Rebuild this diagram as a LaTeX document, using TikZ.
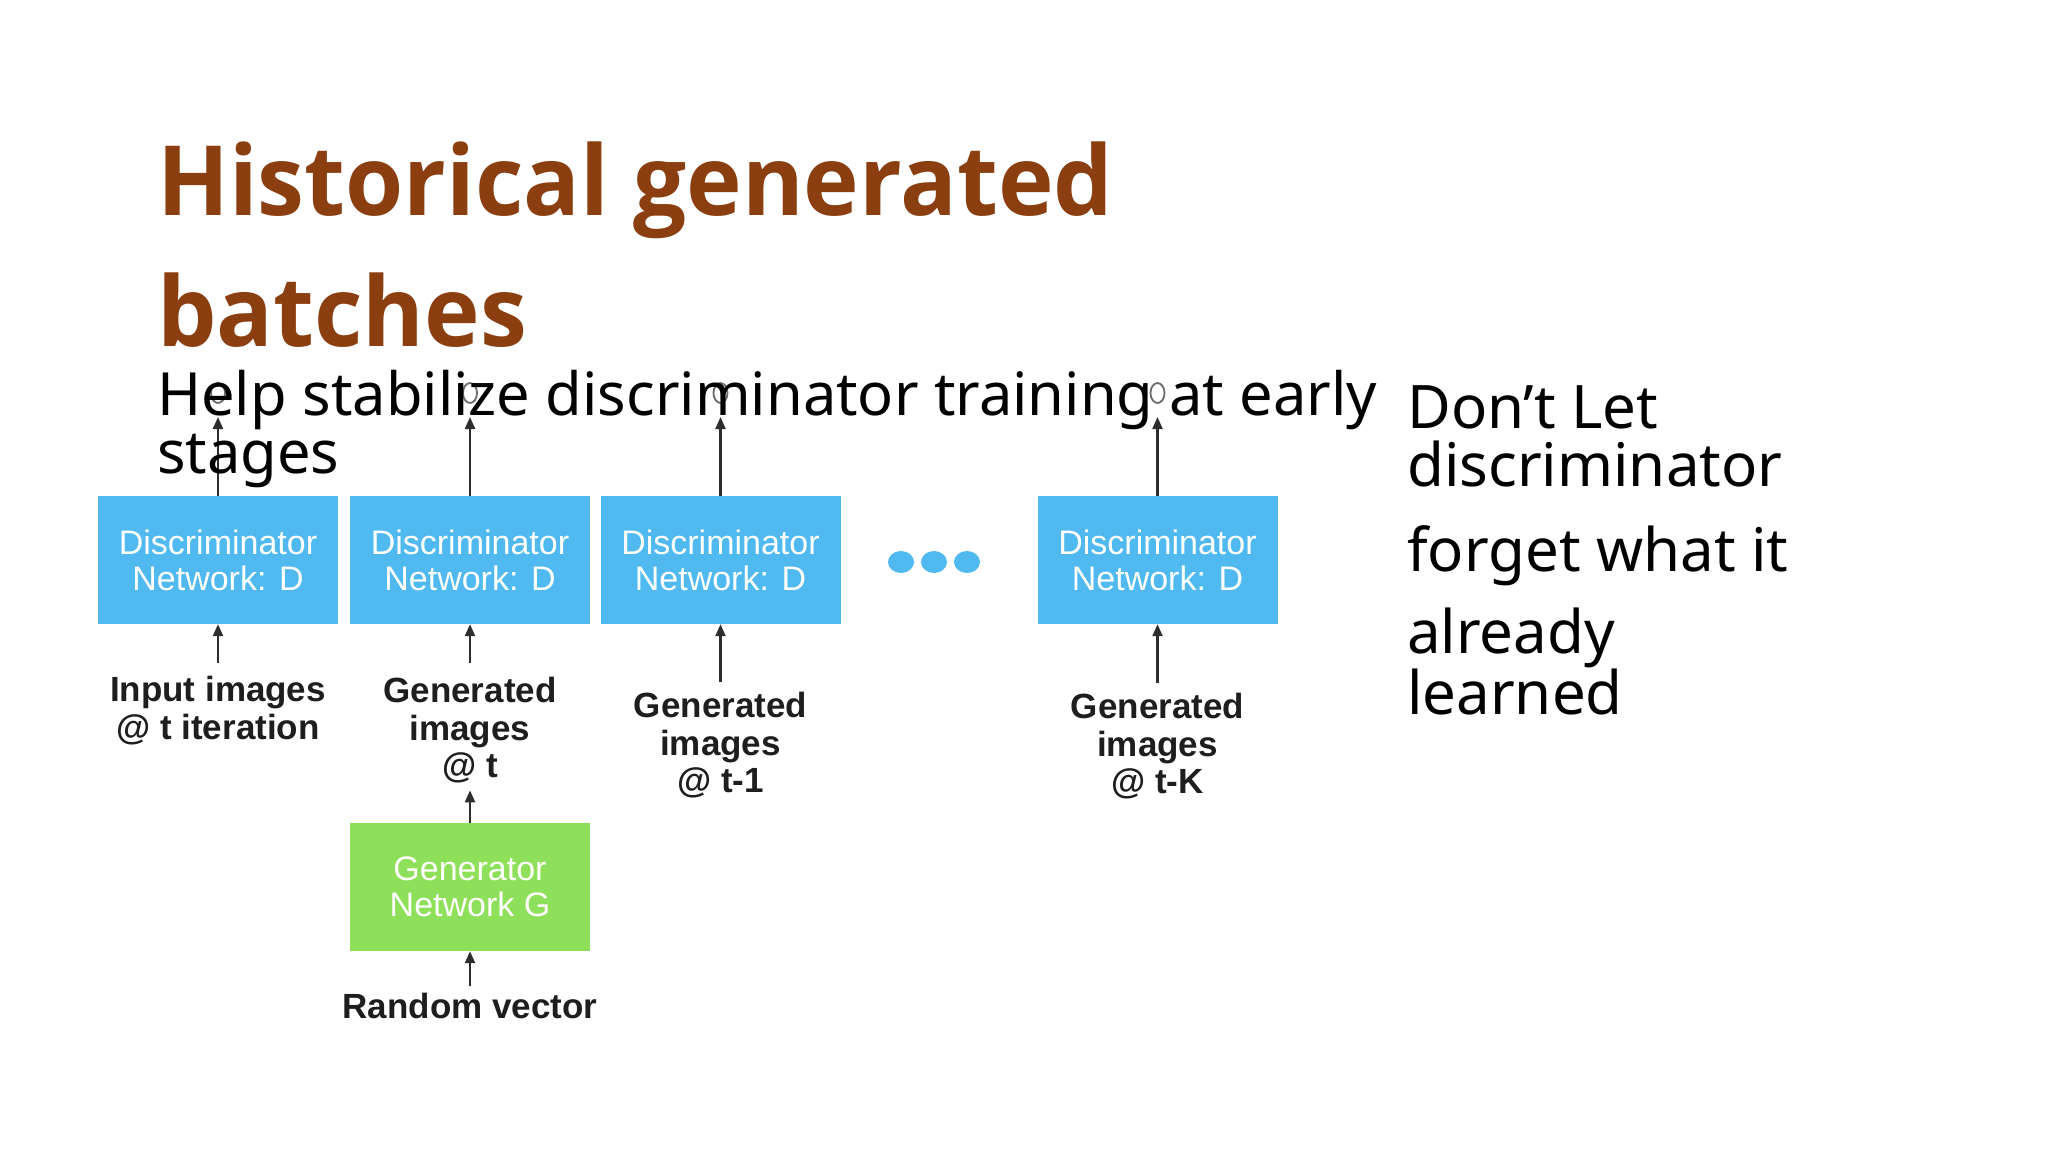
\documentclass[tikz,border=0pt]{standalone}
\usepackage{fontspec}
\setmainfont{Noto Sans}
\newfontfamily\titlefont{Open Sans}[FakeStretch=0.97]
\newfontfamily\diagfont{Liberation Sans}
\usetikzlibrary{arrows.meta}
\definecolor{titlebrown}{RGB}{139,62,15}
\definecolor{dblue}{RGB}{79,185,240}
\definecolor{ggreen}{RGB}{142,224,90}
\definecolor{arrcol}{RGB}{45,45,45}
\definecolor{lblcol}{RGB}{30,30,30}
\tikzset{
  dbox/.style={fill=dblue, draw=none, minimum width=240pt, minimum height=128pt, inner sep=0pt,
    text=white, align=center, font=\diagfont\fontsize{34}{36}\selectfont},
  gbox/.style={dbox, fill=ggreen},
  lbl/.style={anchor=north, inner sep=0pt, align=center, text=lblcol,
    font=\diagfont\bfseries\fontsize{35}{37.5}\selectfont},
  conn/.style={draw=arrcol, line width=2.2pt, -{Triangle[length=12pt,width=10pt]}},
  ghost/.style={draw=gray!85!black, line width=1.8pt},
  titletext/.style={anchor=base west, inner sep=0pt, text=titlebrown,
    font=\titlefont\bfseries\fontsize{97}{110}\selectfont},
  bodytext/.style={anchor=base west, inner sep=0pt, text=black,
    font=\fontsize{59.6}{66}\selectfont},
  sidetext/.style={anchor=base west, inner sep=0pt, text=black,
    font=\fontsize{60}{68}\selectfont},
  dot/.style={fill=dblue, draw=none}
}
\begin{document}
\begin{tikzpicture}[x=1pt,y=-1pt]
\useasboundingbox[fill=white] (0,0) rectangle (2048,1152);

% discriminator boxes
\node[dbox] (d1) at (218,560) {Discriminator\\Network: D};
\node[dbox] (d2) at (470,560) {Discriminator\\Network: D};
\node[dbox] (d3) at (720.5,560) {Discriminator\\Network: D};
\node[dbox] (d4) at (1157.5,560) {Discriminator\\Network: D};
\node[gbox] (g) at (470,887) {Generator\\Network G};

% ellipsis dots
\fill[dot] (901,562) ellipse [x radius=13, y radius=11];
\fill[dot] (934,562) ellipse [x radius=13, y radius=11];
\fill[dot] (967,562) ellipse [x radius=13, y radius=11];

% outputs
\coordinate (o1) at (218,417);
\coordinate (o2) at (470,417);
\coordinate (o3) at (720.5,417);
\coordinate (o4) at (1157.5,417);
\foreach \x in {218,470,720.5,1157.5}{
  \draw[ghost] (\x,393) ellipse [x radius=7, y radius=10];
}
\draw[conn] (d1.north) -- (o1);
\draw[conn] (d2.north) -- (o2);
\draw[conn] (d3.north) -- (o3);
\draw[conn] (d4.north) -- (o4);

% input labels
\node[lbl] (l1) at (218,676) {Input images\\@ t iteration};
\node[lbl] (l2) at (470,677) {Generated\\images\\@ t};
\node[lbl] (l3) at (720.5,692) {Generated\\images\\@ t-1};
\node[lbl] (l4) at (1157.5,693) {Generated\\images\\@ t-K};
\node[lbl] (rv) at (470,993) {Random vector};

\draw[conn] ([yshift=13pt]l1.north) -- (d1.south);
\draw[conn] ([yshift=14pt]l2.north) -- (d2.south);
\draw[conn] ([yshift=10pt]l3.north) -- (d3.south);
\draw[conn] ([yshift=10pt]l4.north) -- (d4.south);
\draw[conn, shorten >=7pt] (g.north) -- (l2.south);
\draw[conn] ([yshift=7pt]rv.north) -- (g.south);

% texts
\node[titletext] (t1) at (157,215) {Historical generated};
\node[titletext] (t2) at (157,346) {batches};
\node[bodytext] (b1) at (157,415) {Help stabilize discriminator training at early};
\node[bodytext] (b2) at (157,473) {stages};
\node[sidetext] (s1) at (1407,428) {Don’t Let};
\node[sidetext] (s2) at (1407,486) {discriminator};
\node[sidetext] (s3) at (1407,571) {forget what it};
\node[sidetext] (s4) at (1407,653) {already};
\node[sidetext] (s5) at (1407,714) {learned};
\end{tikzpicture}
\end{document}
